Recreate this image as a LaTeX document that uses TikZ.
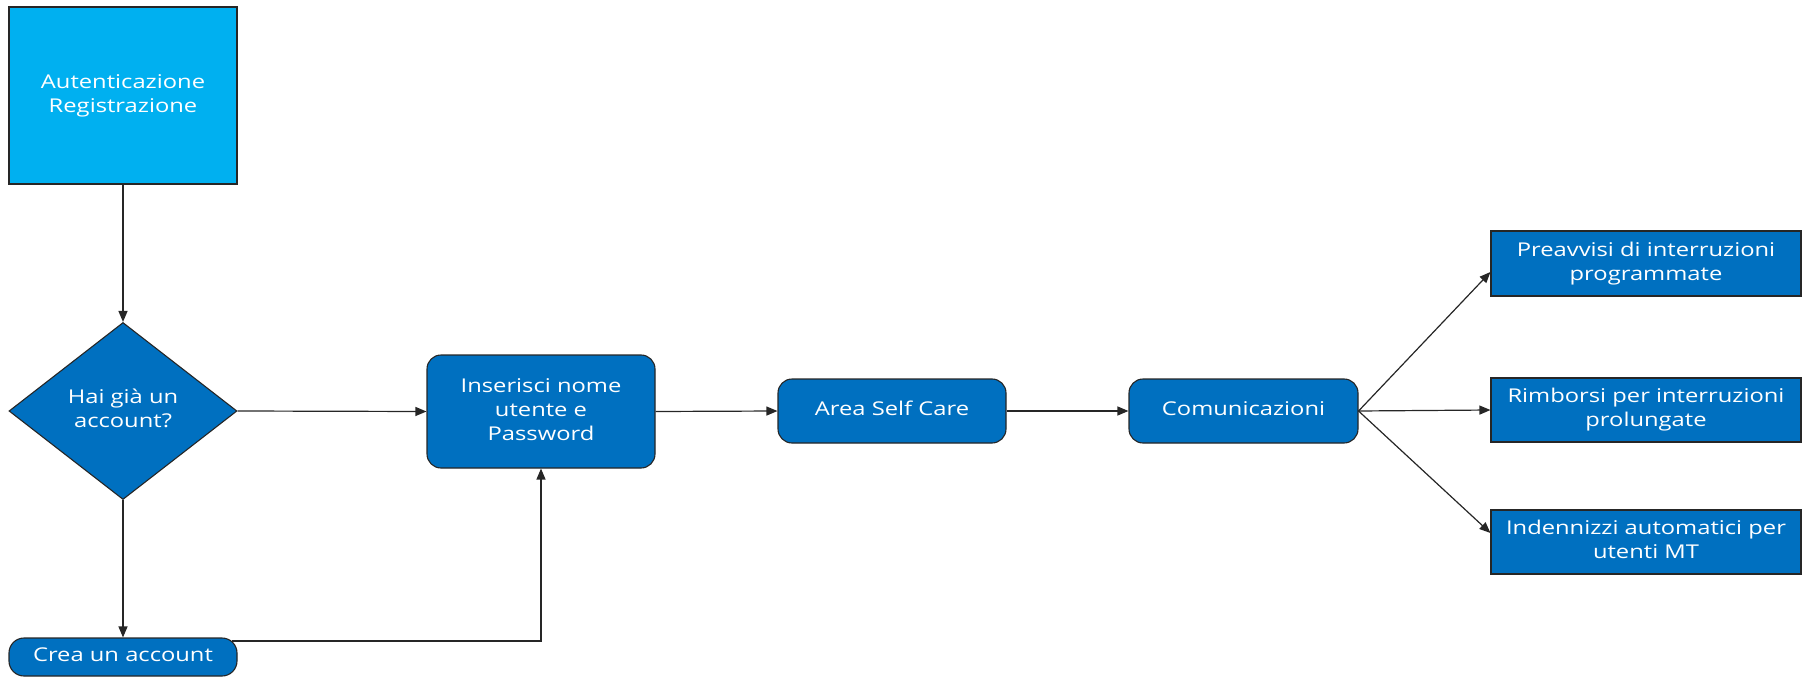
\documentclass[tikz,border=0pt]{standalone}
\usepackage{fontspec}
\usepackage{graphicx}
\setmainfont{Open Sans}
\usetikzlibrary{shapes.geometric,arrows.meta,calc}
\definecolor{lightblue}{HTML}{00B0F0}
\definecolor{darkblue}{HTML}{0070C0}
\newcommand{\txtlines}[1]{\scalebox{1.25}[1]{\begin{tabular}{@{}c@{}}#1\end{tabular}}}
\tikzset{
  box/.style={draw=black!85, line width=1.1pt, fill=darkblue, text=white,
    inner sep=2pt, font=\fontsize{19}{24}\selectfont},
  rbox/.style={box, rounded corners=14pt},
  arr/.style={draw=black!85, line width=1.2pt, -{Triangle[length=11pt,width=9pt]}},
}
\begin{document}
\begin{tikzpicture}[x=1pt,y=-1pt]
\useasboundingbox (0,0) rectangle (1805,677);
\node[box, fill=lightblue, minimum width=228pt, minimum height=177pt] (auth) at (123,95.5) {\txtlines{Autenticazione\\Registrazione}};
\node[box, diamond, aspect=1.29, inner sep=0pt, minimum width=228pt, minimum height=177pt] (dec) at (123,411) {\txtlines{Hai già un\\account?}};
\node[box, rounded corners=15pt, minimum width=228pt, minimum height=38pt] (crea) at (123,657) {\txtlines{Crea un account}};
\node[rbox, minimum width=228pt, minimum height=113pt] (ins) at (541,411.5) {\txtlines{Inserisci nome\\utente e\\Password}};
\node[rbox, minimum width=228pt, minimum height=64pt] (area) at (892,411) {\txtlines{Area Self Care}};
\node[rbox, minimum width=229pt, minimum height=64pt] (com) at (1243.5,411) {\txtlines{Comunicazioni}};
\node[box, minimum width=310pt, minimum height=65pt] (pre) at (1646,263.5) {\txtlines{Preavvisi di interruzioni\\programmate}};
\node[box, minimum width=310pt, minimum height=64pt] (rim) at (1646,410) {\txtlines{Rimborsi per interruzioni\\prolungate}};
\node[box, minimum width=310pt, minimum height=64pt] (ind) at (1646,542) {\txtlines{Indennizzi automatici per\\utenti MT}};

\draw[arr] (auth.south) -- (dec.north);
\draw[arr] (dec.east) -- (ins.west);
\draw[arr] (dec.south) -- (crea.north);
\draw[arr] ([xshift=-6pt,yshift=16pt]crea.east) -| (ins.south);
\draw[arr] (ins.east) -- (area.west);
\draw[arr] (area.east) -- (com.west);
\draw[arr] (com.east) -- ([yshift=-8.5pt]pre.west);
\draw[arr] (com.east) -- (rim.west);
\draw[arr] (com.east) -- ([yshift=9pt]ind.west);
\end{tikzpicture}
\end{document}
